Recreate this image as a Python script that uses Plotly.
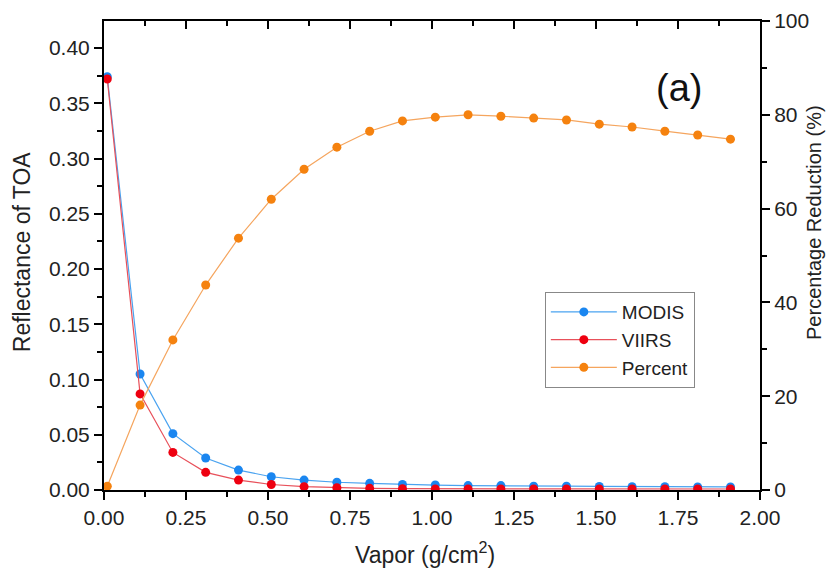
import plotly.graph_objects as go

vapor = [0.01, 0.11, 0.21, 0.31, 0.41, 0.51, 0.61, 0.71, 0.81, 0.91,
         1.01, 1.11, 1.21, 1.31, 1.41, 1.51, 1.61, 1.71, 1.81, 1.91]
modis = [0.374, 0.105, 0.051, 0.029, 0.018, 0.012, 0.009, 0.007, 0.006, 0.005,
         0.0045, 0.004, 0.004, 0.0035, 0.0035, 0.0032, 0.003, 0.003, 0.0028, 0.0028]
viirs = [0.372, 0.087, 0.034, 0.016, 0.009, 0.005, 0.003, 0.002, 0.0015, 0.0012,
         0.001, 0.001, 0.001, 0.001, 0.001, 0.0009, 0.0009, 0.0009, 0.0009, 0.0009]
percent = [0.8, 18.1, 32.0, 43.7, 53.7, 62.0, 68.4, 73.1, 76.5, 78.7,
           79.5, 80.0, 79.7, 79.3, 78.9, 78.0, 77.4, 76.5, 75.7, 74.8]

FONT = "Liberation Sans, Arial, sans-serif"
fig = go.Figure()
fig.add_trace(go.Scatter(x=vapor, y=modis, name="MODIS", mode="lines+markers",
                         line=dict(color="#4aa3f0", width=1.2),
                         marker=dict(color="#1a86f0", size=9)))
fig.add_trace(go.Scatter(x=vapor, y=viirs, name="VIIRS", mode="lines+markers",
                         line=dict(color="#e8505a", width=1.2),
                         marker=dict(color="#ee0010", size=9)))
fig.add_trace(go.Scatter(x=vapor, y=percent, name="Percent", mode="lines+markers",
                         yaxis="y2",
                         line=dict(color="#f5a55e", width=1.2),
                         marker=dict(color="#f5820f", size=9)))
fig.add_trace(go.Scatter(x=[None], y=[None], xaxis="x2", showlegend=False, hoverinfo="skip"))

TICK_FONT = dict(family=FONT, size=21, color="#222")
axis_common = dict(showgrid=False, zeroline=False, showline=True, linecolor="black",
                   linewidth=2, tickcolor="black", tickwidth=2, ticklen=8,
                   automargin=False, tickfont=TICK_FONT)

fig.update_layout(
    width=829, height=571,
    margin=dict(l=104, r=69, t=21, b=81),
    plot_bgcolor="white", paper_bgcolor="white",
    font=dict(family=FONT, color="#222"),
    xaxis=dict(range=[0, 2], tickvals=[0, 0.25, 0.5, 0.75, 1, 1.25, 1.5, 1.75, 2],
               tickformat=".2f", ticks="outside",
               minor=dict(dtick=0.125, tick0=0, ticks="outside", ticklen=5,
                          tickcolor="black", tickwidth=2),
               **axis_common),
    xaxis2=dict(range=[0, 2], overlaying="x", side="top", showticklabels=False,
                tickvals=[0, 0.25, 0.5, 0.75, 1, 1.25, 1.5, 1.75, 2], ticks="inside",
                minor=dict(dtick=0.125, tick0=0, ticks="inside", ticklen=5,
                           tickcolor="black", tickwidth=2),
                **axis_common),
    yaxis=dict(range=[0, 0.4245], tickvals=[0, 0.05, 0.1, 0.15, 0.2, 0.25, 0.3, 0.35, 0.4],
               tickformat=".2f", ticks="outside",
               minor=dict(dtick=0.025, tick0=0, ticks="outside", ticklen=5,
                          tickcolor="black", tickwidth=2),
               **axis_common),
    yaxis2=dict(range=[0, 100], overlaying="y", side="right",
                tickvals=[0, 20, 40, 60, 80, 100], ticks="outside",
                minor=dict(dtick=10, tick0=0, ticks="outside", ticklen=5,
                           tickcolor="black", tickwidth=2),
                **axis_common),
    legend=dict(x=0.672, y=0.422, xanchor="left", yanchor="top",
                bordercolor="#888", borderwidth=1, bgcolor="white",
                font=dict(family=FONT, size=19, color="#222"),
                itemwidth=66, tracegroupgap=0),
    showlegend=True,
    annotations=[
        dict(text="(a)", x=0.877, y=0.857, xref="paper", yref="paper",
             xanchor="center", yanchor="middle",
             showarrow=False, font=dict(family=FONT, size=38, color="#111")),
        dict(text="Vapor (g/cm<sup>2</sup>)", x=0.489, y=-0.134, xref="paper", yref="paper",
             xanchor="center", yanchor="middle",
             showarrow=False, font=dict(family=FONT, size=23, color="#222")),
        dict(text="Reflectance of TOA", x=-0.125, y=0.507, xref="paper", yref="paper",
             xanchor="center", yanchor="middle", textangle=-90,
             showarrow=False, font=dict(family=FONT, size=23, color="#222")),
        dict(text="Percentage Reduction (%)", x=1.082, y=0.571, xref="paper", yref="paper",
             xanchor="center", yanchor="middle", textangle=-90,
             showarrow=False, font=dict(family=FONT, size=20, color="#222")),
    ],
)
fig.write_html("out.html")
